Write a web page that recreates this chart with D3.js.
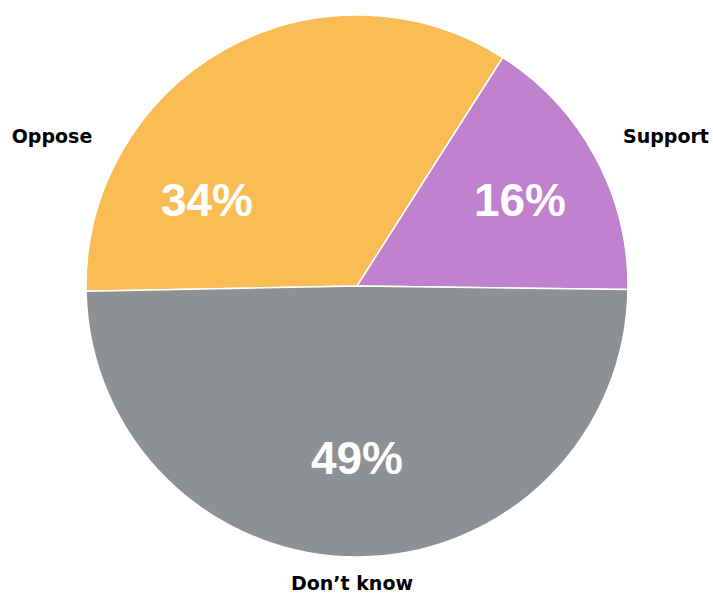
<!DOCTYPE html>
<html>
<head>
<meta charset="utf-8">
<script src="https://cdn.jsdelivr.net/npm/d3@7"></script>
<style>
  body { margin: 0; background: #fff; }
</style>
</head>
<body>
<div id="chart"></div>
<script>
// chart data
const categories = ["Oppose", "Support", "Don\u2019t know"];
const values = [34, 16, 49];
const colors = ["#FABD55", "#BF80CD", "#8E9194"];

// where the text goes
const pctPos = [[207, 216], [520, 216], [357, 474]];
const namePos = [[52, 143], [666, 143], [352, 590]];

const width = 713;
const height = 594;
const cx = 357, cy = 286, radius = 271;

const svg = d3.select("#chart")
    .append("svg")
    .attr("width", width)
    .attr("height", height);

const pie = d3.pie()
    .sort(null)
    .value(d => d)
    .startAngle(-91.1 * Math.PI / 180)
    .endAngle((360 - 91.1) * Math.PI / 180);

const arc = d3.arc().innerRadius(0).outerRadius(radius);

const g = svg.append("g").attr("transform", `translate(${cx},${cy})`);

g.selectAll("path")
    .data(pie(values))
    .enter().append("path")
    .attr("d", arc)
    .attr("fill", (d, i) => colors[i])
    .attr("stroke", "#fff")
    .attr("stroke-width", 1.5);

// percent labels inside the slices
svg.selectAll("text.pct")
    .data(values)
    .enter().append("text")
    .attr("class", "pct")
    .attr("x", (d, i) => pctPos[i][0])
    .attr("y", (d, i) => pctPos[i][1])
    .attr("text-anchor", "middle")
    .style("font-family", "'Liberation Sans', Arial, sans-serif")
    .style("font-weight", "bold")
    .style("font-size", "46px")
    .style("fill", "#fff")
    .text(d => d + "%");

// category names outside
svg.selectAll("text.name")
    .data(categories)
    .enter().append("text")
    .attr("class", "name")
    .attr("x", (d, i) => namePos[i][0])
    .attr("y", (d, i) => namePos[i][1])
    .attr("text-anchor", "middle")
    .style("font-family", "'DejaVu Sans', sans-serif")
    .style("font-weight", "bold")
    .style("font-size", "19px")
    .style("fill", "#000")
    .text(d => d);
</script>
</body>
</html>
